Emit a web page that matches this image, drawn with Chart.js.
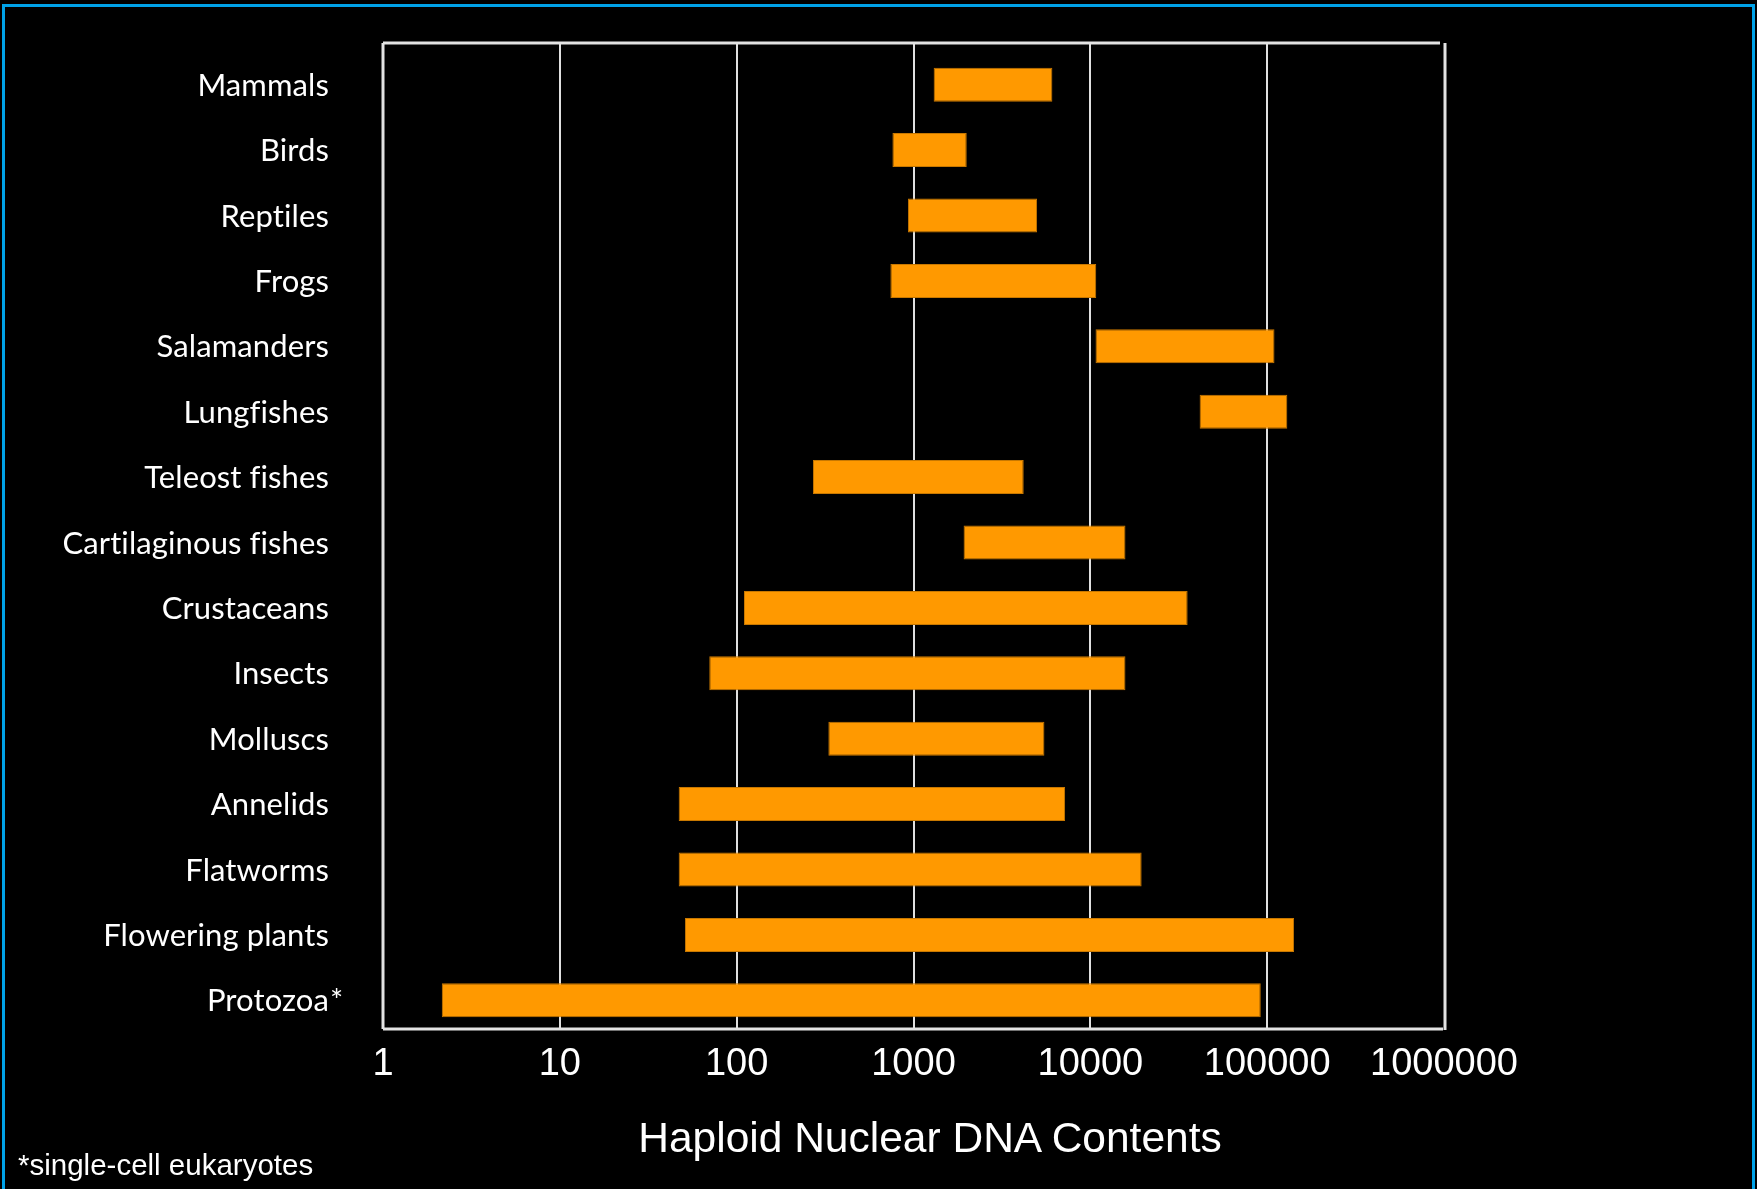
<!DOCTYPE html>
<html>
<head>
<meta charset="utf-8">
<title>Haploid Nuclear DNA Contents</title>
<script src="https://cdn.jsdelivr.net/npm/chart.js@4.4.0/dist/chart.umd.min.js"></script>
<style>
  html, body { margin: 0; padding: 0; background: #000; overflow: hidden; }
  #stage { position: relative; width: 1757px; height: 1189px; background: #000; }
  #frame { position: absolute; left: 2px; top: 4px; width: 1747px; height: 1300px;
           border: 3px solid #00a2e8; box-sizing: content-box; pointer-events: none; }
  canvas { position: absolute; left: 0; top: 0; }
  .axis-title { position: absolute; left: 0; width: 1860px; top: 1113px; text-align: center;
                font-family: "Liberation Sans", Arial, sans-serif; font-size: 42.5px; color: #fff;
                line-height: 50px; white-space: nowrap; }
  .note { position: absolute; left: 18px; top: 1148px; font-family: "Liberation Sans", Arial, sans-serif;
          font-size: 29.5px; color: #fff; line-height: 34px; white-space: nowrap; }
</style>
</head>
<body>
<div id="stage">
  <canvas id="chart" width="1757" height="1189"></canvas>
  <div class="axis-title">Haploid Nuclear DNA Contents</div>
  <div class="note">*single-cell eukaryotes</div>
  <div id="frame"></div>
</div>
<script>
// Groups, top to bottom
const categories = [
  'Mammals', 'Birds', 'Reptiles', 'Frogs', 'Salamanders', 'Lungfishes',
  'Teleost fishes', 'Cartilaginous fishes', 'Crustaceans', 'Insects',
  'Molluscs', 'Annelids', 'Flatworms', 'Flowering plants', 'Protozoa*'
];
// Lower and upper ends of each range
const rangeLow  = [1300, 760, 930, 740, 10700, 41500, 270, 1920, 110, 70, 330, 47, 47, 51, 2.15];
const rangeHigh = [6100, 2000, 5000, 10800, 110000, 130000, 4200, 15800, 35500, 15800, 5500, 7200, 19500, 142000, 92000];
// Decade ticks on the log axis
const tickValues = [1, 10, 100, 1000, 10000, 100000, 1000000];

const ranges = categories.map((c, i) => [rangeLow[i], rangeHigh[i]]);

// Gridlines and the light-grey box around the plot
const framePlugin = {
  id: 'plotFrame',
  beforeDatasetsDraw(chart) {
    const { ctx, chartArea: a, scales: { x } } = chart;
    const top = a.top - 9, bottom = a.bottom - 4;
    ctx.save();
    ctx.strokeStyle = '#e0e0e0';
    ctx.lineWidth = 2;
    tickValues.slice(1, -1).forEach(v => {
      const px = Math.round(x.getPixelForValue(v));
      ctx.beginPath(); ctx.moveTo(px, top); ctx.lineTo(px, bottom); ctx.stroke();
    });
    const l = x.getPixelForValue(tickValues[0]);
    const r = x.getPixelForValue(tickValues[tickValues.length - 1]) + 1;
    ctx.lineWidth = 3;
    ctx.strokeStyle = '#e3e3e3';
    ctx.beginPath();
    ctx.moveTo(l, top); ctx.lineTo(r - 5, top);
    ctx.moveTo(l, top); ctx.lineTo(l, bottom);
    ctx.moveTo(l, bottom); ctx.lineTo(r - 2, bottom);
    ctx.moveTo(r, top); ctx.lineTo(r, bottom + 1);
    ctx.stroke();
    ctx.restore();
  },
  afterDatasetsDraw(chart) {
    // category names to the left of the plot
    const { ctx, chartArea: a, scales: { y } } = chart;
    const size = 31;
    ctx.save();
    ctx.font = size + 'px Lato, "Open Sans", sans-serif';
    if ('letterSpacing' in ctx) ctx.letterSpacing = '0.1px';
    ctx.fillStyle = '#ffffff';
    ctx.textBaseline = 'alphabetic';
    const xr = a.left - 54;
    categories.forEach((name, i) => {
      const yy = y.getPixelForValue(i) + size * 0.36;
      if (name.endsWith('*')) {
        ctx.textAlign = 'right';
        ctx.fillText(name.slice(0, -1), xr, yy);
        ctx.textAlign = 'left';
        ctx.fillText('*', xr + 1, yy);
      } else {
        ctx.textAlign = 'right';
        ctx.fillText(name, xr, yy);
      }
    });
    ctx.restore();
  }
};

function build() {
  new Chart(document.getElementById('chart'), {
    type: 'bar',
    data: {
      labels: categories,
      datasets: [{
        data: ranges,
        backgroundColor: '#ff9900',
        borderColor: '#c87800',
        borderWidth: 1,
        borderSkipped: false,
        categoryPercentage: 1,
        barPercentage: 0.52
      }]
    },
    options: {
      indexAxis: 'y',
      responsive: false,
      animation: false,
      devicePixelRatio: 1,
      layout: { padding: { left: 383, top: 52, right: 313, bottom: 0 } },
      plugins: { legend: { display: false }, tooltip: { enabled: false } },
      scales: {
        x: {
          type: 'logarithmic',
          position: 'bottom',
          min: tickValues[0],
          max: tickValues[tickValues.length - 1],
          afterBuildTicks(scale) { scale.ticks = tickValues.map(v => ({ value: v })); },
          afterFit(scale) { scale.height = 156; },
          grid: { display: false, drawTicks: false },
          border: { display: false },
          ticks: {
            autoSkip: false,
            maxRotation: 0,
            padding: 9,
            color: '#ffffff',
            font: { family: '"Liberation Sans", Arial, sans-serif', size: 38 },
            callback: (v) => String(v)
          }
        },
        y: {
          type: 'category',
          display: false,
          offset: true
        }
      }
    },
    plugins: [framePlugin]
  });
}

if (document.fonts && document.fonts.load) {
  Promise.all([
    document.fonts.load('31px Lato'),
    document.fonts.load('38px "Liberation Sans"')
  ]).then(build, build);
} else {
  build();
}
</script>
</body>
</html>
